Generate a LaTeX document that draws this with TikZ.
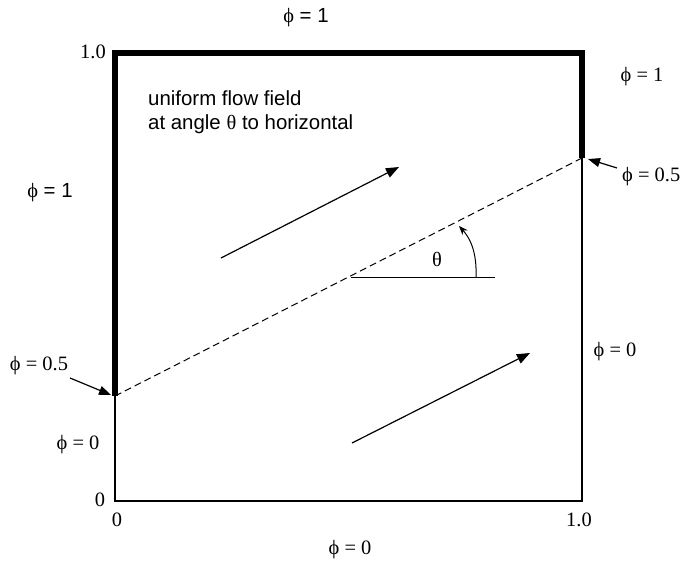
\documentclass[tikz,border=0pt]{standalone}
\usepackage{fontspec}
\setmainfont{Liberation Serif}
\setsansfont{Liberation Sans}
\usetikzlibrary{arrows.meta,positioning}

\newcommand{\phisym}{{\rmfamily\symbol{"03D5}}}
\newcommand{\labsize}{\fontsize{20.5}{24}\selectfont}

\tikzstyle{thickwall} = [line width=5.5bp, line join=miter, line cap=butt]
\tikzstyle{thinwall} = [line width=2bp, line join=miter]
\tikzstyle{flowarrow} = [line width=1.2bp, -{Triangle[length=13bp,width=10bp]}]
\tikzstyle{labelarrow} = [line width=1.2bp, -{Triangle[length=12bp,width=9bp]}]
\tikzstyle{serlab} = [inner sep=0pt, font=\labsize\rmfamily]
\tikzstyle{sanlab} = [inner sep=0pt, font=\labsize\sffamily]

\begin{document}
\begin{tikzpicture}[x=1bp, y=-1bp]
\useasboundingbox (0,0) rectangle (680,566);

% corners of the domain and the break points
\coordinate (bl) at (115,501);
\coordinate (br) at (582,501);
\coordinate (tl) at (115,53);
\coordinate (tr) at (582,53);
\coordinate (lbreak) at (115,396);
\coordinate (rbreak) at (582,158);

% walls
\draw[thickwall] (lbreak) -- (tl) -- (tr) -- (rbreak);
\draw[thinwall] (lbreak) -- (bl) -- (br) -- (rbreak);

% dividing line and angle
\draw[line width=1bp, dash pattern=on 7bp off 4bp] (lbreak) -- (rbreak);
\coordinate (vertex) at (351,277);
\coordinate (hend) at (495,277);
\draw[line width=1bp] (vertex) -- (hend);
\coordinate (arcstart) at (476,277);
\coordinate (arcend) at (459,226);
\draw[line width=1bp, -{Stealth[length=9bp,width=7bp]}] (arcstart)
    .. controls (477,252) and (470,238) .. (arcend);
\node[serlab] (theta) at (437,259) {θ};

% flow arrows
\coordinate (upA) at (221,258);
\coordinate (upB) at (399,167);
\draw[flowarrow] (upA) -- (upB);
\coordinate (loA) at (352,443);
\coordinate (loB) at (530,353);
\draw[flowarrow] (loA) -- (loB);

% description
\node[sanlab, anchor=base west] (flowtxt) at (148,106) {uniform flow field};
\node[sanlab, anchor=base west] (angletxt) at (148,130) {at angle {\rmfamily θ} to horizontal};

% boundary values
\node[sanlab] (phitop) at (306,18) {\phisym{} = 1};
\node[sanlab] (phileft) at (50,193) {\phisym{} = 1};
\node[serlab] (phiright) at (642,77) {\phisym{} = 1};
\node[serlab, anchor=west] (phirhalf) at (622,177) {\phisym{} = 0.5};
\node[serlab] (philhalf) at (39,366) {\phisym{} = 0.5};
\node[serlab] (philzero) at (78,445) {\phisym{} = 0};
\node[serlab] (phirzero) at (615,352) {\phisym{} = 0};
\node[serlab] (phibot) at (350,550) {\phisym{} = 0};

\coordinate (lhalftail) at (70,378);
\coordinate (lhalftip) at (111,395);
\draw[labelarrow] (lhalftail) -- (lhalftip);
\coordinate (rhalftail) at (617,168);
\coordinate (rhalftip) at (588,159);
\draw[labelarrow] (rhalftail) -- (rhalftip);

% axis ticks
\node[serlab] (ytop) at (93,52) {1.0};
\node[serlab] (yzero) at (100,500) {0};
\node[serlab] (xzero) at (117,520) {0};
\node[serlab] (xone) at (579,520) {1.0};
\end{tikzpicture}
\end{document}
